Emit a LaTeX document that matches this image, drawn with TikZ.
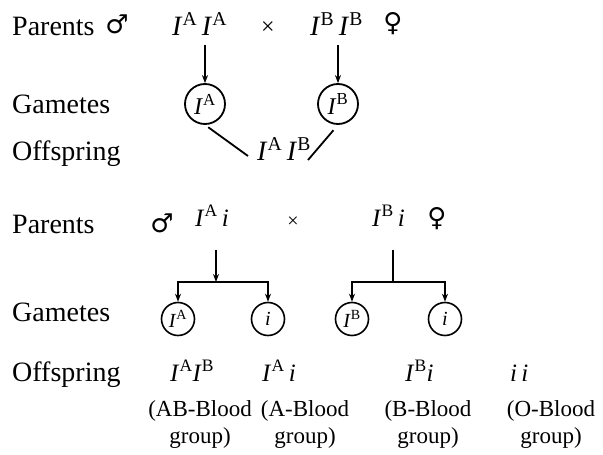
\documentclass[tikz,border=0pt]{standalone}
\usepackage{fontspec}
\setmainfont{Liberation Serif}
\newfontfamily\symfont{DejaVu Sans}
\usetikzlibrary{arrows.meta}
% allele: italic gene letter with an upright superscript
\newcommand\allele[2]{\textit{#1}\textsuperscript{#2}}

\begin{document}
\begin{tikzpicture}[x=1pt,y=-1pt,
  lbl/.style={anchor=base west,inner sep=0pt,font=\fontsize{28}{32}\selectfont},
  geno/.style={anchor=base west,inner sep=0pt,font=\fontsize{28}{32}\selectfont},
  genosm/.style={anchor=base west,inner sep=0pt,font=\fontsize{25}{30}\selectfont},
  sex/.style={inner sep=0pt,font=\symfont\fontsize{26}{30}\selectfont},
  cross/.style={inner sep=0pt,font=\fontsize{24}{28}\selectfont},
  gam/.style={draw,circle,line width=1.8pt,inner sep=0pt,minimum size=40pt,font=\fontsize{24}{28}\selectfont},
  gamsm/.style={gam,minimum size=33pt,line width=1.6pt,font=\fontsize{20}{24}\selectfont},
  grp/.style={align=center,inner sep=0pt,font=\fontsize{23}{27}\selectfont},
  link/.style={line width=1.8pt},
  arr/.style={line width=1.8pt,-{Stealth[length=8pt,width=6pt]}}]
\useasboundingbox (0,0) rectangle (603,455);

% ---------- cross 1: homozygous parents ----------
\node[lbl] (par1) at (12,35) {Parents};
\node[sex] (m1) at (117,24) {♂};
\node[geno] (p1a) at (172,35) {\allele{I}{A}\,\allele{I}{A}};
\node[cross] (x1) at (268,28) {×};
\node[geno] (p1b) at (310,35) {\allele{I}{B}\,\allele{I}{B}};
\node[sex] (f1) at (393,24) {♀};

\node[lbl] (gm1) at (12,113) {Gametes};
\node[gam] (g1a) at (205,104) {\allele{I}{A}};
\node[gam] (g1b) at (338,104) {\allele{I}{B}};

\node[lbl] (of1) at (12,160) {Offspring};
\node[geno] (o1) at (257,160) {\allele{I}{A}\,\allele{I}{B}};

\coordinate (a1s) at (205,45);
\coordinate (a2s) at (338,45);
\draw[arr] (a1s) -- (g1a.north);
\draw[arr] (a2s) -- (g1b.north);

\coordinate (o1l) at (248,156);
\coordinate (o1r) at (308,160);
\draw[link,shorten <=4pt] (g1a.south) -- (o1l);
\draw[link,shorten >=7pt] (o1r) -- (g1b.south);

% ---------- cross 2: heterozygous parents ----------
\node[lbl] (par2) at (12,233) {Parents};
\node[sex] (m2) at (162,223) {♂};
\node[genosm] (p2a) at (195,226) {\allele{I}{A}\,\textit{i}};
\node[cross] (x2) at (293,222) {\fontsize{20}{24}\selectfont ×};
\node[genosm] (p2b) at (372,226) {\allele{I}{B}\,\textit{i}};
\node[sex] (f2) at (437,219) {♀};

\node[lbl] (gm2) at (12,321) {Gametes};
\node[gamsm] (g2a) at (178,319) {\allele{I}{A}};
\node[gamsm] (g2b) at (268,319) {\textit{i}};
\node[gamsm] (g2c) at (352,319) {\allele{I}{B}};
\node[gamsm] (g2d) at (445,319) {\textit{i}};

\coordinate (s1) at (216,250);
\coordinate (j1) at (216,282);
\coordinate (s2) at (393,250);
\coordinate (j2) at (393,282);
\draw[arr] (s1) -- (j1);
\draw[link] (s2) -- (j2);
\draw[arr] (j1) -| (g2a.north);
\draw[arr] (j1) -| (g2b.north);
\draw[arr] (j2) -| (g2c.north);
\draw[arr] (j2) -| (g2d.north);

\node[lbl] (of2) at (12,381) {Offspring};
\node[genosm] (o2a) at (170,381) {\allele{I}{A}\allele{I}{B}};
\node[genosm] (o2b) at (262,381) {\allele{I}{A}\,\textit{i}};
\node[genosm] (o2c) at (405,381) {\allele{I}{B}\textit{i}};
\node[genosm] (o2d) at (510,381) {\textit{i}\,\textit{i}};

\node[grp] (b2a) at (200,424) {(AB-Blood\\group)};
\node[grp] (b2b) at (305,424) {(A-Blood\\group)};
\node[grp] (b2c) at (428,424) {(B-Blood\\group)};
\node[grp] (b2d) at (551,424) {(O-Blood\\group)};
\end{tikzpicture}
\end{document}
